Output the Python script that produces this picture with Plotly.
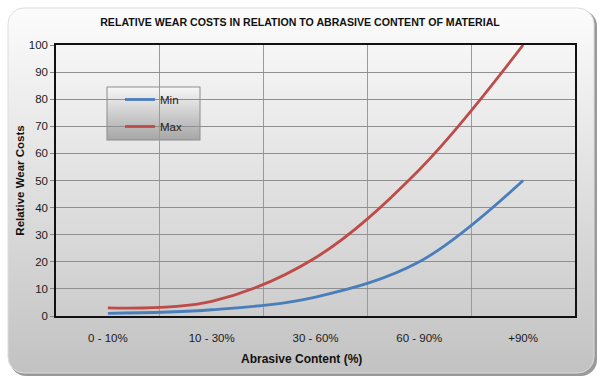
import base64
import plotly.graph_objects as go

categories = ["0 - 10%", "10 - 30%", "30 - 60%", "60 - 90%", "+90%"]
min_values = [1, 2.3, 7, 20, 50]
max_values = [3, 5.4, 21.5, 54, 100]
y_ticks = list(range(0, 101, 10))

W, H = 600, 381
L, R, T, B = 56, 25, 45, 65
PW, PH = W - L - R, H - T - B

svg = f'''<svg xmlns="http://www.w3.org/2000/svg" width="{W}" height="{H}" viewBox="0 0 {W} {H}">
<defs>
<linearGradient id="g1" x1="0" y1="0" x2="0" y2="1">
<stop offset="0" stop-color="#fcfcfc"/><stop offset="1" stop-color="#c2c2c2"/></linearGradient>
<linearGradient id="g2" x1="0" y1="0" x2="0" y2="1">
<stop offset="0" stop-color="#f6f6f6"/><stop offset="1" stop-color="#cdcdcd"/></linearGradient>
<linearGradient id="g3" x1="0" y1="0" x2="0" y2="1">
<stop offset="0" stop-color="#f7f7f7"/><stop offset="1" stop-color="#a6a6a6"/></linearGradient>
</defs>
<rect x="0" y="0" width="{W}" height="{H}" fill="#ffffff"/>
<rect x="10" y="10" width="587" height="366" rx="16" ry="16" fill="#9a9a9a"/>
<rect x="8" y="8" width="586" height="365" rx="16" ry="16" fill="url(#g1)" stroke="#dcdcdc" stroke-width="1"/>
<rect x="{L}" y="{T}" width="{PW}" height="{PH}" fill="url(#g2)"/>
<rect x="107" y="87" width="93" height="53" fill="url(#g3)" stroke="#8c8c8c" stroke-width="1"/>
</svg>'''
src = "data:image/svg+xml;base64," + base64.b64encode(svg.encode()).decode()

fig = go.Figure()
fig.add_trace(go.Scatter(x=categories, y=min_values, name="Min", mode="lines",
                         line=dict(color="#4a7ebb", width=2.8, shape="spline", smoothing=1.0),
                         legendgroup="a"))
fig.add_trace(go.Scatter(x=categories, y=max_values, name="Max", mode="lines",
                         line=dict(color="#be4b48", width=2.8, shape="spline", smoothing=1.0),
                         legendgroup="b"))

font = "Liberation Sans, Arial, sans-serif"
fig.update_layout(
    width=W, height=H,
    margin=dict(l=L, r=R, t=T, b=B),
    paper_bgcolor="rgba(0,0,0,0)",
    plot_bgcolor="rgba(0,0,0,0)",
    font=dict(family=font, size=11.5, color="#1a1a1a"),
    title=dict(text="<b>RELATIVE WEAR COSTS IN RELATION TO ABRASIVE CONTENT OF MATERIAL</b>",
               x=0.5, xanchor="center", y=1 - 22 / H, yanchor="middle",
               font=dict(family=font, size=10.6, color="#111")),
    showlegend=True,
    legend=dict(x=(120 - L) / PW, y=1 - (85 - T) / PH, xanchor="left", yanchor="top",
                bgcolor="rgba(0,0,0,0)", borderwidth=0, tracegroupgap=8,
                font=dict(family=font, size=11.5, color="#222")),
    images=[dict(source=src, xref="paper", yref="paper",
                 x=-L / PW, y=1 + T / PH, sizex=W / PW, sizey=H / PH,
                 xanchor="left", yanchor="top", sizing="stretch", layer="below")],
    annotations=[dict(text="<b>Abrasive Content (%)</b>", xref="paper", yref="paper",
                      x=(301 - L) / PW, y=-(359 - T - PH) / PH, xanchor="center", yanchor="middle",
                      showarrow=False, font=dict(family=font, size=12, color="#111"))],
    xaxis=dict(type="category", range=[-0.5, 4.5], tickson="boundaries",
               showgrid=True, gridcolor="#9a9a9a", gridwidth=1,
               showline=True, linecolor="#111", linewidth=1.5, mirror=True,
               ticks="", ticklabelstandoff=10),
    yaxis=dict(range=[0, 100], tickvals=y_ticks, showgrid=True, gridcolor="#8f8f8f", gridwidth=1,
               showline=True, linecolor="#111", linewidth=1.5, mirror=True,
               ticks="outside", ticklen=4, tickcolor="#888", zeroline=False,
               title=dict(text="<b>Relative Wear Costs</b>", standoff=2,
                          font=dict(family=font, size=11.5, color="#111"))),
)

fig.write_html("out.html", config={"displayModeBar": False},
               post_script="document.body.style.margin='0';document.body.style.overflow='hidden';")
